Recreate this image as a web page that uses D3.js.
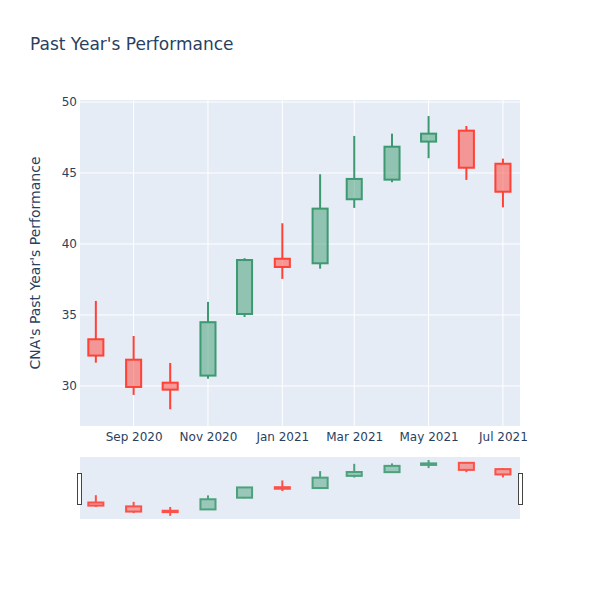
<!DOCTYPE html>
<html>
<head>
<meta charset="utf-8">
<script src="https://cdn.jsdelivr.net/npm/d3@7"></script>
<style>
  body { margin: 0; background: #fff; }
  text { font-family: "DejaVu Sans", Verdana, sans-serif; fill: #2a3f5f; }
</style>
</head>
<body>
<div id="chart"></div>
<script>
// monthly candles, Aug 2020 - Jul 2021
var dates = ["2020-08-01", "2020-09-01", "2020-10-01", "2020-11-01", "2020-12-01", "2021-01-01",
             "2021-02-01", "2021-03-01", "2021-04-01", "2021-05-01", "2021-06-01", "2021-07-01"];
var opens  = [33.29, 31.85, 30.23, 30.73, 35.07, 38.96, 38.64, 43.15, 44.53, 47.21, 47.98, 45.65];
var highs  = [35.99, 33.52, 31.62, 35.92, 39.00, 41.46, 44.91, 47.61, 47.77, 49.01, 48.31, 46.01];
var lows   = [31.64, 29.37, 28.36, 30.51, 34.86, 37.54, 38.26, 42.54, 44.35, 46.04, 44.51, 42.58];
var closes = [32.14, 29.93, 29.74, 34.49, 38.87, 38.38, 42.49, 44.58, 46.85, 47.77, 45.37, 43.68];
var xTicks = ["2020-09-01", "2020-11-01", "2021-01-01", "2021-03-01", "2021-05-01", "2021-07-01"];
var yTicks = [30, 35, 40, 45, 50];

var parse = d3.timeParse("%Y-%m-%d");
var data = dates.map(function (d, i) {
    return {date: parse(d), open: opens[i], high: highs[i], low: lows[i], close: closes[i]};
});

var width = 600, height = 600;
var plotLeft = 80, plotRight = 520, plotTop = 100, plotBottom = 426;
var sTop = 457, sBottom = 519;

var incColor = "#3D9970", decColor = "#FF4136";
var incFill = "rgba(61,153,112,0.5)", decFill = "rgba(255,65,54,0.5)";

var svg = d3.select("#chart").append("svg")
    .attr("width", width)
    .attr("height", height);

var x = d3.scaleTime()
    .domain([parse("2020-07-19"), parse("2021-07-15")])
    .range([plotLeft, plotRight]);

var y = d3.scaleLinear()
    .domain([27.18, 50.14])
    .range([plotBottom, plotTop]);

var ySlider = d3.scaleLinear()
    .domain([27.18, 50.14])
    .range([sBottom, sTop]);

// plot background
svg.append("rect")
    .attr("x", plotLeft).attr("y", plotTop)
    .attr("width", plotRight - plotLeft).attr("height", plotBottom - plotTop)
    .attr("fill", "#E5ECF6");

// gridlines
svg.append("g").selectAll("line")
    .data(yTicks).enter().append("line")
    .attr("x1", plotLeft).attr("x2", plotRight)
    .attr("y1", d => y(d)).attr("y2", d => y(d))
    .attr("stroke", "#fff").attr("stroke-width", 1);

svg.append("g").selectAll("line")
    .data(xTicks).enter().append("line")
    .attr("x1", d => x(parse(d))).attr("x2", d => x(parse(d)))
    .attr("y1", plotTop).attr("y2", plotBottom)
    .attr("stroke", "#fff").attr("stroke-width", 1);

// axes
var xAxis = d3.axisBottom(x)
    .tickValues(xTicks.map(parse))
    .tickFormat(d3.timeFormat("%b %Y"))
    .tickSize(0).tickPadding(6);
var gx = svg.append("g")
    .attr("transform", "translate(0," + plotBottom + ")")
    .call(xAxis);
gx.select(".domain").remove();
gx.selectAll("text").style("font-size", "12px").attr("fill", "#2a3f5f");

var yAxis = d3.axisLeft(y)
    .tickValues(yTicks)
    .tickSize(0).tickPadding(3);
var gy = svg.append("g")
    .attr("transform", "translate(" + plotLeft + ",0)")
    .call(yAxis);
gy.select(".domain").remove();
gy.selectAll("text").style("font-size", "12px").attr("fill", "#2a3f5f");

// candles: wicks above and below the box, box on top
function drawCandles(g, ys, strokeW, opacity) {
    var halfDays = 7;
    var col = d => d.close >= d.open ? incColor : decColor;
    var c = g.selectAll("g.candle")
        .data(data).enter().append("g")
        .attr("class", "candle")
        .attr("opacity", opacity);

    c.append("line")
        .attr("x1", d => x(d.date)).attr("x2", d => x(d.date))
        .attr("y1", d => ys(d.high)).attr("y2", d => ys(Math.max(d.open, d.close)))
        .attr("stroke", col)
        .attr("stroke-width", strokeW);

    c.append("line")
        .attr("x1", d => x(d.date)).attr("x2", d => x(d.date))
        .attr("y1", d => ys(Math.min(d.open, d.close))).attr("y2", d => ys(d.low))
        .attr("stroke", col)
        .attr("stroke-width", strokeW);

    c.append("rect")
        .attr("x", d => x(d3.timeDay.offset(d.date, -halfDays)) + strokeW / 2)
        .attr("width", d => x(d3.timeDay.offset(d.date, halfDays)) - x(d3.timeDay.offset(d.date, -halfDays)) - strokeW)
        .attr("y", d => ys(Math.max(d.open, d.close)))
        .attr("height", d => Math.max(0.5, Math.abs(ys(d.open) - ys(d.close))))
        .attr("fill", d => d.close >= d.open ? incFill : decFill)
        .attr("stroke", col)
        .attr("stroke-width", strokeW);
}

drawCandles(svg.append("g"), y, 2, 1);

// range slider
svg.append("rect")
    .attr("x", plotLeft).attr("y", sTop)
    .attr("width", plotRight - plotLeft).attr("height", sBottom - sTop)
    .attr("fill", "#E5ECF6");

drawCandles(svg.append("g"), ySlider, 2, 0.9);

[plotLeft - 2.5, plotRight - 1.5].forEach(function (hx) {
    svg.append("rect")
        .attr("x", hx).attr("y", 473.5)
        .attr("width", 4).attr("height", 31)
        .attr("fill", "#fff")
        .attr("stroke", "#444").attr("stroke-width", 1);
});

// titles
svg.append("text")
    .attr("x", 30).attr("y", 50)
    .style("font-size", "17px")
    .text("Past Year's Performance");

svg.append("text")
    .attr("transform", "translate(40," + ((plotTop + plotBottom) / 2) + ") rotate(-90)")
    .attr("text-anchor", "middle")
    .style("font-size", "14px")
    .text("CNA's Past Year's Performance");
</script>
</body>
</html>
